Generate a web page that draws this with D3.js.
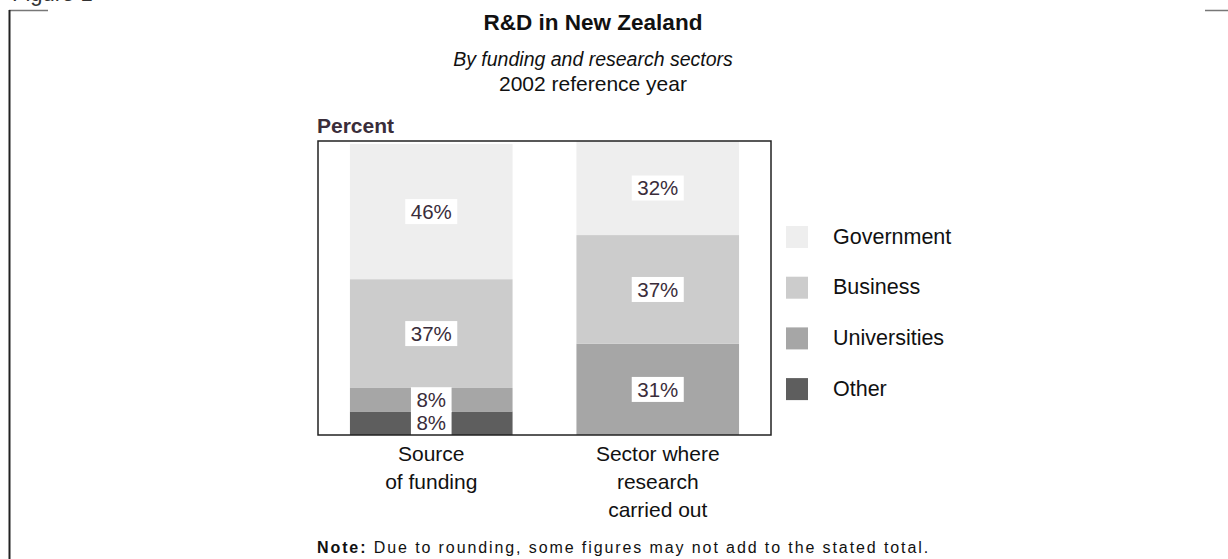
<!DOCTYPE html>
<html>
<head>
<meta charset="utf-8">
<script src="https://cdn.jsdelivr.net/npm/d3@7"></script>
<style>
  html, body { margin: 0; padding: 0; background: #fff; }
  svg { display: block; font-family: "Liberation Sans", Arial, sans-serif; }
</style>
</head>
<body>
<svg id="chart" width="1228" height="559"></svg>
<script>
// R&D shares by sector, 2002
const categories = ["Source of funding", "Sector where research carried out"];
const categoryLines = [["Source", "of funding"], ["Sector where", "research", "carried out"]];
const sectors = ["Government", "Business", "Universities", "Other"];
const fundingShares = [46, 37, 8, 8];     // Government, Business, Universities, Other
const performedShares = [32, 37, 31, 0];  // Government, Business, Universities, Other
const sectorColors = ["#eeeeee", "#cccccc", "#a6a6a6", "#5e5e5e"];

const svg = d3.select("#chart");

// Page frame
svg.append("text").attr("x", 12).attr("y", 0.5).attr("font-size", 22).attr("fill", "#333").text("Figure 1");
svg.append("line").attr("x1", 9).attr("x2", 48).attr("y1", 10.5).attr("y2", 10.5).attr("stroke", "#777").attr("stroke-width", 1.5);
svg.append("line").attr("x1", 1205).attr("x2", 1228).attr("y1", 10.5).attr("y2", 10.5).attr("stroke", "#777").attr("stroke-width", 1.5);
svg.append("line").attr("x1", 9.5).attr("x2", 9.5).attr("y1", 10).attr("y2", 559).attr("stroke", "#222").attr("stroke-width", 2);

// Titles
const cx = 593;
svg.append("text").attr("x", cx).attr("y", 30).attr("text-anchor", "middle")
  .attr("font-size", 22.5).attr("font-weight", "bold").attr("fill", "#111").text("R&D in New Zealand");
svg.append("text").attr("x", cx).attr("y", 66).attr("text-anchor", "middle")
  .attr("font-size", 19.5).attr("font-style", "italic").attr("fill", "#111").text("By funding and research sectors");
svg.append("text").attr("x", cx).attr("y", 91).attr("text-anchor", "middle")
  .attr("font-size", 21).attr("fill", "#111").text("2002 reference year");

// Plot area
const plot = { left: 318, right: 771, top: 141, bottom: 435 };

const x = d3.scaleBand().domain(categories).range([plot.left, plot.right])
  .paddingInner(0.282).paddingOuter(0.141);
const y = d3.scaleLinear().domain([0, 100]).range([plot.bottom, plot.top]);

// Rows for stacking
const rows = categories.map((c, i) => {
  const vals = i === 0 ? fundingShares : performedShares;
  const row = { category: c };
  sectors.forEach((s, j) => row[s] = vals[j]);
  return row;
});
const stackKeys = sectors.slice().reverse(); // Other at the bottom
const series = d3.stack().keys(stackKeys)(rows);
const color = d3.scaleOrdinal().domain(sectors).range(sectorColors);

svg.append("text").attr("x", 317).attr("y", 133).attr("font-size", 21).attr("font-weight", "bold")
  .attr("fill", "#3a2d3a").text("Percent");

const gBars = svg.append("g");
series.forEach(s => {
  gBars.selectAll(null).data(s).join("rect")
    .attr("x", d => x(d.data.category))
    .attr("width", x.bandwidth())
    .attr("y", d => y(d[1]))
    .attr("height", d => y(d[0]) - y(d[1]))
    .attr("fill", color(s.key));
});

// Value labels on white boxes
const gLabels = svg.append("g");
series.forEach(s => {
  s.forEach(d => {
    const v = d[1] - d[0];
    if (v <= 0) return;
    const mx = x(d.data.category) + x.bandwidth() / 2;
    const my = (y(d[0]) + y(d[1])) / 2;
    const g = gLabels.append("g");
    const rect = g.append("rect").attr("fill", "#fff");
    const t = g.append("text").attr("x", mx).attr("y", my + 7.2).attr("text-anchor", "middle")
      .attr("font-size", 20.5).attr("fill", "#3a2d3a").text(v + "%");
    const w = t.node().getComputedTextLength() + 11;
    rect.attr("x", mx - w / 2).attr("y", my - 12.5).attr("width", w).attr("height", 25);
  });
});

// Plot frame
svg.append("rect").attr("x", plot.left).attr("y", plot.top)
  .attr("width", plot.right - plot.left).attr("height", plot.bottom - plot.top)
  .attr("fill", "none").attr("stroke", "#222").attr("stroke-width", 1.5);

// Category axis
const xAxis = svg.append("g").attr("transform", `translate(0,${plot.bottom})`)
  .call(d3.axisBottom(x).tickSize(0).tickPadding(0));
xAxis.select(".domain").remove();
xAxis.selectAll(".tick text").each(function(d, i) {
  const t = d3.select(this).text(null).attr("font-size", 21).attr("fill", "#111")
    .attr("font-family", "Liberation Sans, Arial, sans-serif").attr("dy", null).attr("y", 0);
  categoryLines[i].forEach((line, k) => {
    t.append("tspan").attr("x", 0).attr("y", 26 + k * 28).text(line);
  });
});

// Legend
const legend = svg.append("g");
sectors.forEach((s, i) => {
  const ly = 226 + i * 50.7;
  legend.append("rect").attr("x", 786).attr("y", ly).attr("width", 22).attr("height", 22).attr("fill", color(s));
  legend.append("text").attr("x", 833).attr("y", ly + 17.5).attr("font-size", 21.5).attr("fill", "#111").text(s);
});

// Note
const note = svg.append("text").attr("x", 317).attr("y", 553).attr("font-size", 16)
  .attr("fill", "#111").attr("letter-spacing", 1.9);
note.append("tspan").attr("font-weight", "bold").text("Note:");
note.append("tspan").text(" Due to rounding, some figures may not add to the stated total.");
</script>
</body>
</html>
